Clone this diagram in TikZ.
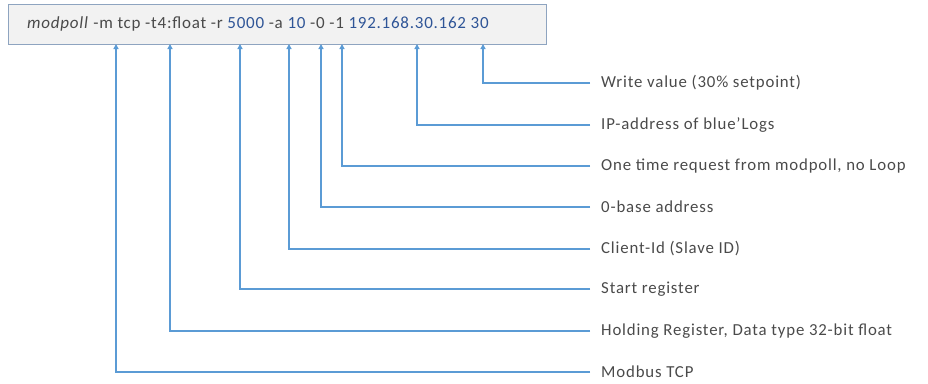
\documentclass[tikz,border=0pt]{standalone}
\usepackage{fontspec}
\setmainfont{Carlito}
\newfontfamily\lblfont[LetterSpace=5]{Carlito}
\newfontfamily\cmdfont[LetterSpace=4.5]{Carlito}
\usetikzlibrary{arrows.meta}
\definecolor{conn}{HTML}{5B9BD5}
\definecolor{boxline}{HTML}{8EA4C0}
\definecolor{boxfill}{HTML}{F2F2F2}
\definecolor{txt}{HTML}{4A4A4A}
\definecolor{num}{HTML}{2F5597}
\newcommand{\nm}[1]{\textcolor{num}{#1}}
\begin{document}
\begin{tikzpicture}[x=1pt,y=-1pt,
  connector/.style={draw=conn,line width=1.6pt,-{Triangle[length=5pt,width=5pt]}},
  lbl/.style={anchor=west,inner sep=0pt,text=txt,font=\lblfont\fontsize{16.8}{18}\selectfont},
  cmdbox/.style={draw=boxline,fill=boxfill,line width=1.2pt,minimum width=538pt,minimum height=40pt,inner sep=0pt}]
\useasboundingbox (0,0) rectangle (928,383);
\node[cmdbox,anchor=north west] (box) at (8,4) {};
\node[anchor=west,inner sep=0pt,text=txt,font=\cmdfont\fontsize{17}{19}\selectfont] (cmd) at (27,24)
  {\textit{modpoll} -m tcp -t4:float -r \nm{5000} -a \nm{10} -0 -1 \nm{192.168.30.162} \nm{30}};
% target points on the box bottom
\coordinate (t1) at (116,44);
\coordinate (t2) at (170,44);
\coordinate (t3) at (240,44);
\coordinate (t4) at (289,44);
\coordinate (t5) at (321,44);
\coordinate (t6) at (342,44);
\coordinate (t7) at (417,44);
\coordinate (t8) at (483,44);
% labels
\node[lbl] (l8) at (601,83) {Write value (30\% setpoint)};
\node[lbl] (l7) at (601,125) {IP-address of blue’Logs};
\node[lbl] (l6) at (601,166) {One time request from modpoll, no Loop};
\node[lbl] (l5) at (601,207) {0-base address};
\node[lbl] (l4) at (601,249) {Client-Id (Slave ID)};
\node[lbl] (l3) at (601,289) {Start register};
\node[lbl] (l2) at (601,331) {Holding Register, Data type 32-bit float};
\node[lbl] (l1) at (601,372) {Modbus TCP};
\foreach \i in {1,...,8}{
  \draw[connector] ([xshift=-11pt]l\i.west) -| (t\i);
}
\end{tikzpicture}
\end{document}
